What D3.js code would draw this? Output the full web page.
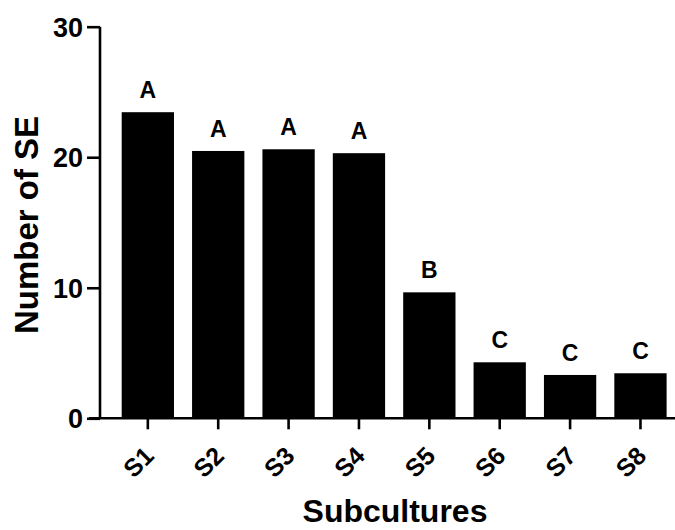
<!DOCTYPE html>
<html>
<head>
<meta charset="utf-8">
<script src="https://cdn.jsdelivr.net/npm/d3@7"></script>
<style>
  html, body { margin: 0; padding: 0; background: #fff; }
  svg { display: block; }
  text { font-family: "Liberation Sans", Arial, Helvetica, sans-serif; font-weight: bold; fill: #000; }
</style>
</head>
<body>
<script>
const categories = ["S1", "S2", "S3", "S4", "S5", "S6", "S7", "S8"];
const values = [23.45, 20.48, 20.61, 20.31, 9.65, 4.29, 3.32, 3.45];
const groups = ["A", "A", "A", "A", "B", "C", "C", "C"];
const yTicks = [0, 10, 20, 30];

const W = 675, H = 530;
const svg = d3.select("body").append("svg").attr("width", W).attr("height", H);

const y = d3.scaleLinear().domain([0, 30]).range([418.3, 26.7]);
const x = d3.scaleBand().domain(categories).range([101, 687.3])
  .paddingInner(0.257).paddingOuter(0.294);

// bars
svg.append("g").selectAll("rect").data(categories).join("rect")
  .attr("x", d => x(d))
  .attr("width", x.bandwidth())
  .attr("y", (d, i) => y(values[i]))
  .attr("height", (d, i) => y(0) - y(values[i]))
  .attr("fill", "#000");

// group letters
svg.append("g").selectAll("text").data(categories).join("text")
  .attr("x", d => x(d) + x.bandwidth() / 2)
  .attr("y", (d, i) => y(values[i]) - 14)
  .attr("text-anchor", "middle")
  .style("font-size", "23px")
  .text((d, i) => groups[i]);

// y axis
const yAxis = d3.axisLeft(y).tickValues(yTicks).tickSize(13).tickPadding(4).tickFormat(d3.format("d"));
const gy = svg.append("g").attr("transform", "translate(100,0)").call(yAxis);
gy.select(".domain").attr("stroke", "#000").attr("stroke-width", 2.6)
  .attr("d", `M0,${y(30)}V${y(0)}`);
gy.selectAll(".tick line").attr("stroke", "#000").attr("stroke-width", 2.6);
gy.selectAll(".tick text").style("font-size", "27px").style("font-family", '"Liberation Sans", Arial, sans-serif')
  .style("font-weight", "bold").attr("dy", "0.35em");

// x axis
const xAxis = d3.axisBottom(x).tickSize(11).tickSizeOuter(0);
const gx = svg.append("g").attr("transform", `translate(0,${y(0)})`).call(xAxis);
gx.select(".domain").attr("stroke", "#000").attr("stroke-width", 2.6)
  .attr("d", "M89,0H675");
gx.selectAll(".tick line").attr("stroke", "#000").attr("stroke-width", 2.6);
gx.selectAll(".tick text")
  .style("font-size", "25px").style("font-family", '"Liberation Sans", Arial, sans-serif').style("font-weight", "bold")
  .attr("text-anchor", "end")
  .attr("y", 0).attr("dy", 0)
  .attr("transform", "translate(7.5,39) rotate(-45)");

// axis titles
svg.append("text")
  .attr("transform", `translate(38,225) rotate(-90)`)
  .attr("text-anchor", "middle")
  .style("font-size", "33px")
  .text("Number of SE");

svg.append("text")
  .attr("x", 395).attr("y", 522)
  .attr("text-anchor", "middle")
  .style("font-size", "32px")
  .text("Subcultures");
</script>
</body>
</html>
